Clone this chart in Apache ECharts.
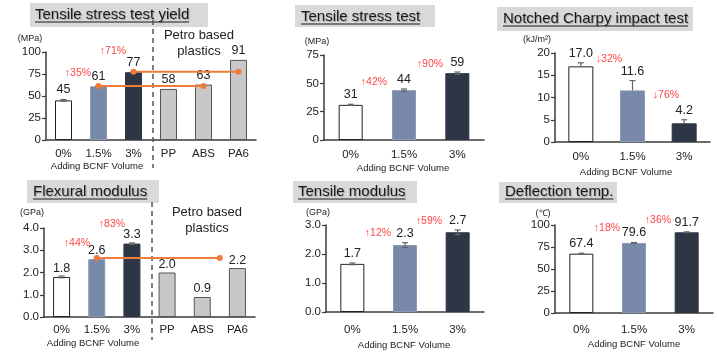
<!DOCTYPE html>
<html><head><meta charset="utf-8">
<script src="https://cdn.jsdelivr.net/npm/echarts@6/dist/echarts.min.js"></script>
<style>html,body{margin:0;padding:0;background:#fff}#c{width:718px;height:355px}</style>
</head><body><div id="c"></div>
<script>
// ---------- data ----------
const catsPetro = ['0%', '1.5%', '3%', 'PP', 'ABS', 'PA6'];
const catsBCNF = ['0%', '1.5%', '3%'];

const yieldVals = [45, 61, 77, 58, 63, 91];
const yieldErr = [1, 0.6, 0.6, 0, 0, 0];
const yieldLabels = ['45', '61', '77', '58', '63', '91'];

const stressVals = [31, 44, 59];
const stressErr = [0.5, 1, 1];
const stressLabels = ['31', '44', '59'];

const charpyVals = [17.0, 11.6, 4.2];
const charpyErr = [0.8, 2.2, 0.8];
const charpyLabels = ['17.0', '11.6', '4.2'];

const flexVals = [1.8, 2.6, 3.3, 2.0, 0.9, 2.2];
const flexErr = [0.04, 0.03, 0.03, 0, 0, 0];
const flexLabels = ['1.8', '2.6', '3.3', '2.0', '0.9', '2.2'];

const tmodVals = [1.66, 2.31, 2.75];
const tmodErr = [0.03, 0.08, 0.08];
const tmodLabels = ['1.7', '2.3', '2.7'];

const heatVals = [67.4, 79.6, 91.7];
const heatErr = [0.5, 0.5, 0.5];
const heatLabels = ['67.4', '79.6', '91.7'];

// comparison lines (category position, value)
const yieldLine1X = [1, 4], yieldLine1Y = [61.5, 61.5];
const yieldLine2X = [2, 5], yieldLine2Y = [77.5, 77.5];
const flexLineX = [1, 4.5], flexLineY = [2.65, 2.65];

// ---------- styles ----------
const FONT = '"Liberation Sans", Arial, sans-serif';
const barColors = ['#ffffff', '#7888a8', '#2e3646', '#c8c8c8', '#c8c8c8', '#c8c8c8'];
const barBorders = ['#222', '#8a9ab8', '#2e3646', '#555', '#555', '#555'];
const AXIS = '#3a3a3a';
const RED = '#ff4545';
const ORANGE = '#ec7c3a';

const grids = [
  {left: 46, top: 52, width: 210, height: 88},
  {left: 324, top: 55, width: 160, height: 85},
  {left: 555, top: 53, width: 155, height: 89},
  {left: 44, top: 228, width: 211, height: 89},
  {left: 326, top: 225, width: 158, height: 87},
  {left: 555, top: 225, width: 158, height: 88}
];
const panels = [
  {cats: catsPetro, vals: yieldVals, err: yieldErr, labels: yieldLabels, max: 100, interval: 25, dec: 0, bw: 17, margin: 7.5, upOnly: false, gap: 3},
  {cats: catsBCNF, vals: stressVals, err: stressErr, labels: stressLabels, max: 75, interval: 25, dec: 0, bw: 24, margin: 8.5, upOnly: false, gap: 3},
  {cats: catsBCNF, vals: charpyVals, err: charpyErr, labels: charpyLabels, max: 20, interval: 5, dec: 0, bw: 25, margin: 8.5, upOnly: true, gap: 3},
  {cats: catsPetro, vals: flexVals, err: flexErr, labels: flexLabels, max: 4, interval: 1, dec: 1, bw: 17, margin: 6.5, upOnly: false, gap: 1.5},
  {cats: catsBCNF, vals: tmodVals, err: tmodErr, labels: tmodLabels, max: 3, interval: 1, dec: 1, bw: 24, margin: 11.5, upOnly: false, gap: 3},
  {cats: catsBCNF, vals: heatVals, err: heatErr, labels: heatLabels, max: 100, interval: 25, dec: 0, bw: 24, margin: 10.5, upOnly: false, gap: 3}
];

const xAxes = [], yAxes = [], series = [];
panels.forEach((p, g) => {
  xAxes.push({
    type: 'category', gridIndex: g, data: p.cats,
    axisLine: {onZero: false, lineStyle: {color: AXIS, width: 1.5}},
    axisTick: {show: false},
    axisLabel: {color: '#222', fontSize: 11.5, fontFamily: FONT, margin: p.margin, interval: 0}
  });
  yAxes.push({
    type: 'value', gridIndex: g, min: 0, max: p.max, interval: p.interval,
    axisLine: {show: true, onZero: false, lineStyle: {color: AXIS, width: 1.5}},
    axisTick: {show: true, length: 4, lineStyle: {color: AXIS, width: 1.2}},
    splitLine: {show: false},
    axisLabel: {color: '#222', fontSize: 11.5, fontFamily: FONT, margin: 5,
      formatter: v => v.toFixed(p.dec)}
  });
  series.push({
    type: 'bar', xAxisIndex: g, yAxisIndex: g, barWidth: p.bw, animation: false,
    data: p.vals.map((v, i) => ({value: v, itemStyle: {color: barColors[i], borderColor: barBorders[i], borderWidth: 1}}))
  });
  series.push({
    type: 'custom', xAxisIndex: g, yAxisIndex: g, animation: false, z: 5,
    data: p.vals.map((v, i) => [i, v, p.err[i]]),
    renderItem: (params, api) => {
      const i = api.value(0), v = api.value(1), e = api.value(2);
      const top = api.coord([i, v + e]);
      const bot = api.coord([i, p.upOnly ? v : v - e]);
      const ch = [];
      if (e > 0) {
        ch.push({type: 'line', shape: {x1: top[0], y1: top[1], x2: bot[0], y2: bot[1]}, style: {stroke: '#666', lineWidth: 1.2}});
        ch.push({type: 'line', shape: {x1: top[0] - 3, y1: top[1], x2: top[0] + 3, y2: top[1]}, style: {stroke: '#666', lineWidth: 1.2}});
        if (!p.upOnly) ch.push({type: 'line', shape: {x1: bot[0] - 3, y1: bot[1], x2: bot[0] + 3, y2: bot[1]}, style: {stroke: '#666', lineWidth: 1.2}});
      }
      ch.push({type: 'text', x: top[0], y: top[1] - p.gap,
        style: {text: p.labels[params.dataIndex], fill: '#222', fontSize: 12.5, fontFamily: FONT, align: 'center', verticalAlign: 'bottom'}});
      return {type: 'group', children: ch};
    }
  });
});
// hidden value x axes for comparison lines
xAxes.push({type: 'value', gridIndex: 0, min: -0.5, max: 5.5, show: false, axisLine: {onZero: false}});
xAxes.push({type: 'value', gridIndex: 3, min: -0.5, max: 5.5, show: false, axisLine: {onZero: false}});
function refLine(xs, ys, xi, yi) {
  return {type: 'line', xAxisIndex: xi, yAxisIndex: yi, animation: false, z: 6,
    data: xs.map((x, k) => [x, ys[k]]), symbol: 'circle', symbolSize: 6,
    lineStyle: {color: ORANGE, width: 2}, itemStyle: {color: ORANGE}};
}
series.push(refLine(yieldLine1X, yieldLine1Y, 6, 0));
series.push(refLine(yieldLine2X, yieldLine2Y, 6, 0));
series.push(refLine(flexLineX, flexLineY, 7, 3));

// ---------- annotations ----------
const ctx = document.createElement('canvas').getContext('2d');
function tw(t, size) { ctx.font = size + 'px ' + FONT; return ctx.measureText(t).width; }

const titles = [
  {t: 'Tensile stress test yield', bx: 30, by: 3, bw: 178, bh: 24, x: 35, y: 15},
  {t: 'Tensile stress test', bx: 295, by: 5, bw: 140, bh: 22, x: 301, y: 17},
  {t: 'Notched Charpy impact test', bx: 497, by: 7, bw: 196, bh: 24, x: 503, y: 19},
  {t: 'Flexural modulus', bx: 27, by: 180, bw: 132, bh: 23, x: 33, y: 192},
  {t: 'Tensile modulus', bx: 293, by: 181, bw: 124, bh: 22, x: 298, y: 192},
  {t: 'Deflection temp.', bx: 499, by: 182, bw: 118, bh: 21, x: 505, y: 192}
];
const units = [['(MPa)', 30, 39], ['(MPa)', 317, 42], ['(kJ/m²)', 537, 40], ['(GPa)', 32, 213], ['(GPa)', 318, 213], ['(℃)', 543, 214]];
const xNames = [[97, 166], [403, 168], [626, 172], [93, 343], [404, 345], [634, 344]];
const pcts = [['↑35%', 78, 73], ['↑71%', 113, 51], ['↑42%', 374, 82], ['↑90%', 430, 64],
  ['↓32%', 609, 59], ['↓76%', 666, 95], ['↑44%', 77, 243], ['↑83%', 112, 224],
  ['↑12%', 378, 233], ['↑59%', 429, 221], ['↑18%', 607, 228], ['↑36%', 658, 220]];
const petro = [['Petro based', 199, 35], ['plastics', 199, 51], ['Petro based', 207, 212], ['plastics', 207, 228]];

const graphic = [];
titles.forEach(o => {
  graphic.push({type: 'rect', shape: {x: o.bx, y: o.by, width: o.bw, height: o.bh}, style: {fill: '#d9d9d9'}, z: 1});
  graphic.push({type: 'text', x: o.x, y: o.y, z: 2, style: {text: o.t, fill: '#1a1a1a', fontSize: 15, fontFamily: FONT, verticalAlign: 'middle',
    textShadowColor: 'rgba(0,0,0,0.25)', textShadowBlur: 1, textShadowOffsetX: 1, textShadowOffsetY: 1}});
  const w = tw(o.t, 15);
  graphic.push({type: 'line', z: 2, shape: {x1: o.x, y1: o.y + 7, x2: o.x + w, y2: o.y + 7}, style: {stroke: '#1a1a1a', lineWidth: 1}});
});
units.forEach(u => graphic.push({type: 'text', x: u[1], y: u[2], style: {text: u[0], fill: '#222', fontSize: 9, fontFamily: FONT, align: 'center', verticalAlign: 'middle'}}));
xNames.forEach(n => graphic.push({type: 'text', x: n[0], y: n[1], style: {text: 'Adding BCNF Volume', fill: '#222', fontSize: 9.5, fontFamily: FONT, align: 'center', verticalAlign: 'middle'}}));
pcts.forEach(p => graphic.push({type: 'text', x: p[1], y: p[2], style: {text: p[0], fill: RED, fontSize: 10.5, fontFamily: FONT, align: 'center', verticalAlign: 'middle'}}));
petro.forEach(p => graphic.push({type: 'text', x: p[1], y: p[2], style: {text: p[0], fill: '#222', fontSize: 13, fontFamily: FONT, align: 'center', verticalAlign: 'middle'}}));
graphic.push({type: 'line', shape: {x1: 153, y1: 20, x2: 153, y2: 168}, style: {stroke: '#555', lineWidth: 1.5, lineDash: [5, 4]}, z: 3});
graphic.push({type: 'line', shape: {x1: 152, y1: 202, x2: 152, y2: 340}, style: {stroke: '#555', lineWidth: 1.5, lineDash: [5, 4]}, z: 3});

const chart = echarts.init(document.getElementById('c'), null, {renderer: 'canvas'});
chart.setOption({
  animation: false,
  backgroundColor: '#fff',
  grid: grids,
  xAxis: xAxes,
  yAxis: yAxes,
  series: series,
  graphic: graphic
});
</script>
</body></html>
